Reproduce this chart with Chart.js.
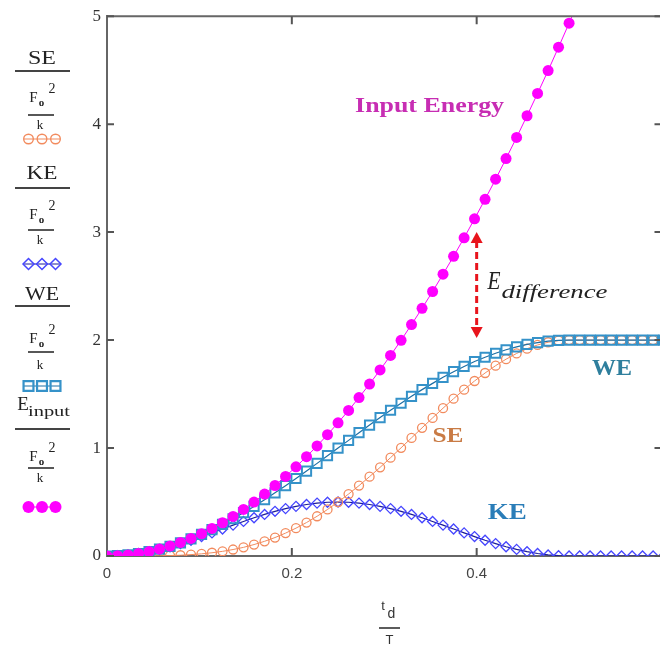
<!DOCTYPE html>
<html><head><meta charset="utf-8">
<script src="https://cdn.jsdelivr.net/npm/chart.js@4.4.1/dist/chart.umd.min.js"></script>
<style>
html,body{margin:0;padding:0;background:#fff;overflow:hidden;width:660px;height:653px;}
#wrap{position:absolute;left:0;top:0;width:670px;height:653px;}
</style></head><body>
<div id="wrap"><canvas id="c"></canvas></div>
<script>
// t_d / T
const tdOverT = [0, 0.0114, 0.0227, 0.0341, 0.0455, 0.0568, 0.0682, 0.0795, 0.0909, 0.1023,
  0.1136, 0.125, 0.1364, 0.1477, 0.1591, 0.1705, 0.1818, 0.1932, 0.2045, 0.2159,
  0.2273, 0.2386, 0.25, 0.2614, 0.2727, 0.2841, 0.2955, 0.3068, 0.3182, 0.3295,
  0.3409, 0.3523, 0.3636, 0.375, 0.3864, 0.3977, 0.4091, 0.4205, 0.4318, 0.4432,
  0.4545, 0.4659, 0.4773, 0.4886, 0.5, 0.5114, 0.5227, 0.5341, 0.5455, 0.5568,
  0.5682, 0.5795, 0.5909, 0.6023];
// E_input / (F0^2/k)
const inputEnergy = [0, 0.003, 0.010, 0.023, 0.041, 0.064, 0.092, 0.125, 0.163, 0.206,
  0.255, 0.308, 0.367, 0.431, 0.500, 0.574, 0.653, 0.737, 0.826, 0.920,
  1.020, 1.124, 1.234, 1.348, 1.468, 1.593, 1.723, 1.858, 1.998, 2.144,
  2.294, 2.450, 2.610, 2.776, 2.947, 3.123, 3.304, 3.490, 3.681, 3.877,
  4.078, 4.285, 4.496, 4.713, 4.935, 5.162];
// SE / (F0^2/k)
const strainEnergy = [0, 0.000, 0.000, 0.000, 0.001, 0.002, 0.004, 0.007, 0.013, 0.020,
  0.030, 0.043, 0.060, 0.080, 0.106, 0.136, 0.171, 0.212, 0.258, 0.310,
  0.368, 0.431, 0.500, 0.574, 0.652, 0.735, 0.821, 0.911, 1.002, 1.094,
  1.187, 1.279, 1.369, 1.457, 1.541, 1.621, 1.695, 1.763, 1.823, 1.876,
  1.920, 1.955, 1.980, 1.995, 2.000, 2.000, 2.000, 2.000, 2.000, 2.000,
  2.000, 2.000, 2.000, 2.000];
// KE / (F0^2/k)
const kineticEnergy = [0, 0.003, 0.010, 0.023, 0.040, 0.061, 0.086, 0.115, 0.146, 0.180,
  0.214, 0.250, 0.286, 0.320, 0.354, 0.385, 0.414, 0.439, 0.460, 0.477,
  0.490, 0.498, 0.500, 0.498, 0.490, 0.477, 0.460, 0.439, 0.414, 0.385,
  0.354, 0.320, 0.286, 0.250, 0.214, 0.180, 0.146, 0.115, 0.086, 0.061,
  0.040, 0.023, 0.010, 0.003, 0.000, 0.000, 0.000, 0.000, 0.000, 0.000,
  0.000, 0.000, 0.000, 0.000];
// WE / (F0^2/k)
const workEnergy = [0, 0.003, 0.010, 0.023, 0.041, 0.063, 0.090, 0.122, 0.159, 0.200,
  0.244, 0.293, 0.345, 0.401, 0.459, 0.521, 0.585, 0.651, 0.718, 0.787,
  0.858, 0.929, 1.000, 1.071, 1.142, 1.213, 1.282, 1.350, 1.415, 1.479,
  1.541, 1.599, 1.655, 1.707, 1.756, 1.801, 1.841, 1.878, 1.910, 1.937,
  1.960, 1.977, 1.990, 1.997, 2.000, 2.000, 2.000, 2.000, 2.000, 2.000,
  2.000, 2.000, 2.000, 2.000];
const xTickValues = [0, 0.2, 0.4];
const yTickValues = [0, 1, 2, 3, 4, 5];

const SERIF = '"Liberation Serif","Times New Roman",serif';
const SANS = '"Liberation Sans",Arial,sans-serif';

const C_IN = '#ff00ff', C_SE = '#f28b5e', C_KE = '#4646ff', C_WE = '#3592c9';

function pts(arr) { return arr.map((v, i) => ({x: tdOverT[i], y: v})); }

function marker(ctx, style, x, y, r, stroke, fill, lw) {
  ctx.save(); ctx.beginPath();
  if (style === 'circle') ctx.arc(x, y, r, 0, Math.PI * 2);
  else if (style === 'rect') { const s = r * Math.SQRT1_2; ctx.rect(x - s, y - s, 2 * s, 2 * s); }
  else { ctx.moveTo(x - r, y); ctx.lineTo(x, y - r); ctx.lineTo(x + r, y); ctx.lineTo(x, y + r); ctx.closePath(); }
  if (fill) { ctx.fillStyle = fill; ctx.fill(); }
  if (lw) { ctx.lineWidth = lw; ctx.strokeStyle = stroke; ctx.stroke(); }
  ctx.restore();
}
function txt(ctx, s, x, y, font, color, align, width) {
  ctx.save(); ctx.font = font; ctx.fillStyle = color; ctx.textBaseline = 'middle';
  const w = ctx.measureText(s).width;
  const k = width ? width / w : 1;
  ctx.translate(x, y); ctx.scale(k, 1);
  const x0 = align === 'center' ? -w / 2 : (align === 'right' ? -w : 0);
  ctx.textAlign = 'left'; ctx.fillText(s, x0, 0); ctx.restore();
}
function hline(ctx, x1, x2, y, lw, color) {
  ctx.save(); ctx.beginPath(); ctx.moveTo(x1, y); ctx.lineTo(x2, y);
  ctx.lineWidth = lw; ctx.strokeStyle = color; ctx.stroke(); ctx.restore();
}

function legendBlock(ctx, b) {
  const ink = '#222';
  if (b.sub) {
    txt(ctx, b.label, 23, b.yl, '19px ' + SERIF, ink, 'center');
    txt(ctx, b.sub, 28, b.yl + 7, '15px ' + SERIF, ink, 'left', 42);
  } else {
    txt(ctx, b.label, 42, b.yl, '19px ' + SERIF, ink, 'center', b.w);
  }
  hline(ctx, 15, 70, b.yline, 2.2, '#444');
  txt(ctx, 'F', 33.5, b.yf, '15px ' + SERIF, ink, 'center');
  txt(ctx, 'o', 41.5, b.yf + 5, 'bold 11px ' + SERIF, ink, 'center');
  txt(ctx, '2', 52, b.yf - 9, '14px ' + SERIF, ink, 'center');
  hline(ctx, 28, 54, b.yshort, 1.8, '#444');
  txt(ctx, 'k', 40, b.yk, '13px ' + SERIF, ink, 'center');
  hline(ctx, 24, 60, b.ym, 1, b.line);
  [28.5, 42, 55.5].forEach(x => marker(ctx, b.style, x, b.ym, b.r, b.color, b.fill, b.lw));
}

const decor = {
  id: 'decor',
  afterDraw(chart) {
    const ctx = chart.ctx, a = chart.chartArea, xs = chart.scales.x, ys = chart.scales.y;
    // frame
    ctx.save(); ctx.strokeStyle = '#666'; ctx.lineWidth = 2;
    ctx.beginPath(); ctx.moveTo(a.left, a.top); ctx.lineTo(a.right, a.top); ctx.lineTo(a.right, a.bottom); ctx.stroke();
    ctx.strokeStyle = '#555';
    yTickValues.forEach(v => {
      const y = ys.getPixelForValue(v);
      ctx.beginPath(); ctx.moveTo(a.left, y); ctx.lineTo(a.left + 7, y);
      ctx.moveTo(a.right, y); ctx.lineTo(a.right - 7, y); ctx.stroke();
    });
    xTickValues.forEach(v => {
      if (v === 0) return;
      const x = xs.getPixelForValue(v);
      ctx.beginPath(); ctx.moveTo(x, a.bottom); ctx.lineTo(x, a.bottom - 8);
      ctx.moveTo(x, a.top); ctx.lineTo(x, a.top + 8); ctx.stroke();
    });
    ctx.restore();

    // legend on the left
    legendBlock(ctx, {label: 'SE', w: 28, yl: 59, yline: 71, yf: 98, yshort: 115, yk: 126, ym: 139,
      style: 'circle', r: 4.8, color: C_SE, fill: null, lw: 1.4, line: C_SE});
    legendBlock(ctx, {label: 'KE', w: 31, yl: 174, yline: 188, yf: 215, yshort: 230, yk: 241, ym: 264,
      style: 'rectRot', r: 5.5, color: C_KE, fill: null, lw: 1.5, line: '#1a1a9a'});
    legendBlock(ctx, {label: 'WE', w: 34, yl: 295, yline: 306, yf: 339, yshort: 352, yk: 366, ym: 386,
      style: 'rect', r: 7, color: C_WE, fill: null, lw: 2.2, line: '#1d6fa5'});
    legendBlock(ctx, {label: 'E', sub: 'input', yl: 405, yline: 429, yf: 457, yshort: 468, yk: 479, ym: 507,
      style: 'circle', r: 6, color: C_IN, fill: C_IN, lw: 0, line: C_IN});

    // x-axis title  t_d / T
    txt(ctx, 't', 383, 606, '13px ' + SANS, '#333', 'center');
    txt(ctx, 'd', 391.5, 614, '14px ' + SANS, '#333', 'center');
    hline(ctx, 379, 400, 628, 1.6, '#333');
    txt(ctx, 'T', 389.5, 640, '13px ' + SANS, '#333', 'center');

    // annotations
    const px = v => xs.getPixelForValue(v), py = v => ys.getPixelForValue(v);
    txt(ctx, 'Input Energy', px(0.2684), py(4.16), 'bold 21px ' + SERIF, '#c72db3', 'left', 149);
    txt(ctx, 'SE', px(0.369), py(1.105), 'bold 22px ' + SERIF, '#c97b45', 'center', 31);
    txt(ctx, 'KE', px(0.433), py(0.396), 'bold 23px ' + SERIF, '#2a7db8', 'center', 39);
    txt(ctx, 'WE', px(0.5465), py(1.73), 'bold 23px ' + SERIF, '#2f7f9d', 'center', 40);
    txt(ctx, 'E', px(0.4118), py(2.53), 'italic 25px ' + SERIF, '#222', 'left', 13);
    txt(ctx, 'difference', px(0.4268), py(2.43), 'italic 18px ' + SERIF, '#222', 'left', 106);

    // red double arrow
    const ax = px(0.4), yT = py(3.0), yB = py(2.02);
    ctx.save(); ctx.strokeStyle = '#e8141c'; ctx.fillStyle = '#e8141c'; ctx.lineWidth = 3;
    ctx.setLineDash([7, 4]);
    ctx.beginPath(); ctx.moveTo(ax, yT + 9); ctx.lineTo(ax, yB - 9); ctx.stroke();
    ctx.setLineDash([]);
    ctx.beginPath(); ctx.moveTo(ax, yT); ctx.lineTo(ax - 6, yT + 11); ctx.lineTo(ax + 6, yT + 11); ctx.closePath(); ctx.fill();
    ctx.beginPath(); ctx.moveTo(ax, yB); ctx.lineTo(ax - 6, yB - 11); ctx.lineTo(ax + 6, yB - 11); ctx.closePath(); ctx.fill();
    ctx.restore();
  }
};

new Chart(document.getElementById('c'), {
  type: 'line',
  data: {
    datasets: [
      {label: 'E_input', data: pts(inputEnergy), borderColor: C_IN, borderWidth: 1,
       pointStyle: 'circle', pointRadius: 5.5, pointBackgroundColor: C_IN, pointBorderColor: C_IN, pointBorderWidth: 0},
      {label: 'WE', data: pts(workEnergy), borderColor: '#1d6fa5', borderWidth: 1.2,
       pointStyle: 'rect', pointRadius: 6.5, pointBackgroundColor: 'rgba(0,0,0,0)', pointBorderColor: C_WE, pointBorderWidth: 2},
      {label: 'SE', data: pts(strainEnergy), borderColor: C_SE, borderWidth: 1,
       pointStyle: 'circle', pointRadius: 4.5, pointBackgroundColor: 'rgba(0,0,0,0)', pointBorderColor: C_SE, pointBorderWidth: 1.3},
      {label: 'KE', data: pts(kineticEnergy), borderColor: '#1a1a9a', borderWidth: 1.2,
       pointStyle: 'rectRot', pointRadius: 5, pointBackgroundColor: 'rgba(0,0,0,0)', pointBorderColor: C_KE, pointBorderWidth: 1.3}
    ]
  },
  options: {
    responsive: true, maintainAspectRatio: false, animation: false,
    layout: {padding: {left: 0, right: 2, top: 13, bottom: 0}},
    plugins: {legend: {display: false}, tooltip: {enabled: false}},
    elements: {line: {tension: 0}},
    scales: {
      x: {type: 'linear', min: 0, max: 0.6,
        grid: {display: false, drawTicks: false},
        border: {display: true, color: '#666', width: 2},
        afterBuildTicks: s => { s.ticks = xTickValues.map(v => ({value: v})); },
        ticks: {padding: 9, color: '#444', font: {family: SANS, size: 15},
          callback: v => (v === 0 ? '0' : String(v))},
        afterFit: s => { s.height = 97; }
      },
      y: {min: 0, max: 5,
        grid: {display: false, drawTicks: false},
        border: {display: true, color: '#666', width: 2},
        afterBuildTicks: s => { s.ticks = yTickValues.map(v => ({value: v})); },
        ticks: {padding: 6, color: '#333', font: {family: SERIF, size: 17}},
        afterFit: s => { s.width = 107; }
      }
    }
  },
  plugins: [decor]
});
</script>
</body></html>
